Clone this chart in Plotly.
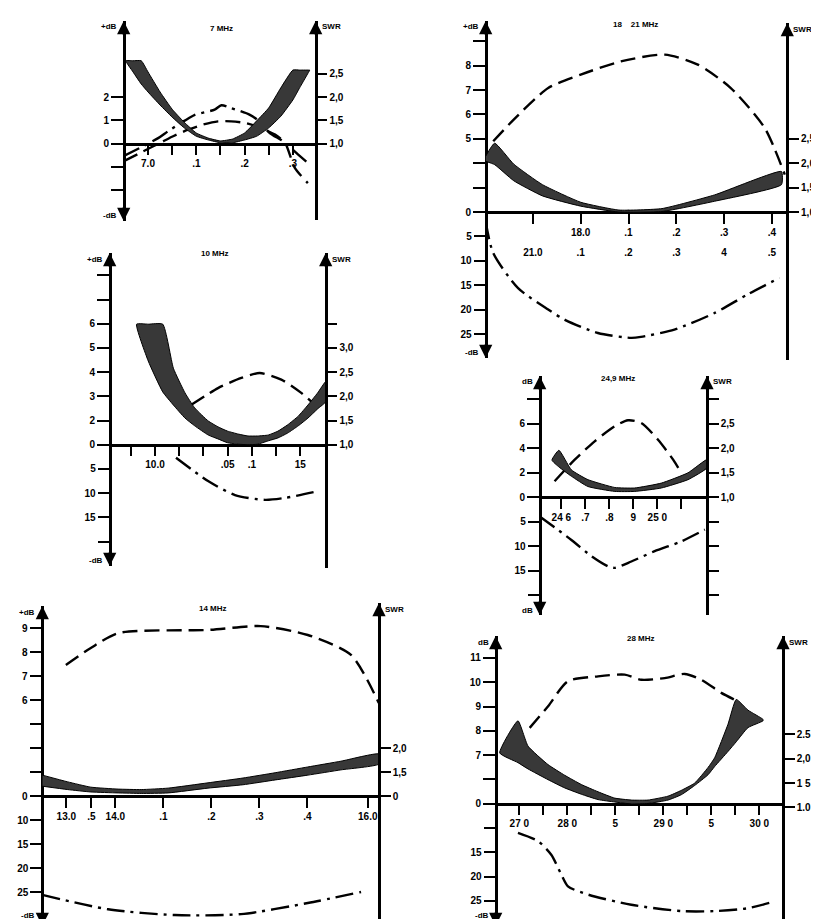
import plotly.graph_objects as go

W, H = 819, 919
FONT = "Liberation Sans"
DASH = "15px,7px"
DASHDOT = "18px,6px,3px,6px"

# ---------------- 7 MHz ----------------
f7_band = [6.954, 6.969, 6.986, 7.000, 7.025, 7.050, 7.075, 7.100, 7.125, 7.150,
           7.175, 7.200, 7.225, 7.250, 7.275, 7.300, 7.314, 7.335]
swr7_lo = [2.78, 2.54, 2.28, 2.11, 1.83, 1.57, 1.34, 1.16, 1.08, 1.02,
           1.02, 1.08, 1.16, 1.34, 1.59, 1.94, 2.20, 2.58]
swr7_hi = [2.78, 2.78, 2.78, 2.54, 2.11, 1.74, 1.46, 1.23, 1.12, 1.06,
           1.10, 1.23, 1.49, 1.77, 2.20, 2.58, 2.58, 2.58]
f7_a = [6.948, 7.021, 7.041, 7.076, 7.097, 7.138, 7.152, 7.172, 7.211, 7.228, 7.252, 7.280, 7.311, 7.331]
gain7_a = [-0.55, 0.24, 0.53, 0.99, 1.24, 1.46, 1.65, 1.53, 1.24, 1.00, 0.46, 0.10, -0.47, -0.83]
f7_b = [6.950, 6.990, 7.031, 7.052, 7.083, 7.114, 7.145, 7.172, 7.201, 7.228, 7.242, 7.263, 7.284, 7.304, 7.331]
gain7_b = [-0.75, -0.33, 0.10, 0.32, 0.60, 0.82, 0.96, 0.96, 0.89, 0.72, 0.60, 0.39, 0.03, -1.04, -1.69]

# ---------------- 10 MHz ----------------
f10_band = [9.981, 9.993, 10.008, 10.019, 10.031, 10.041, 10.055, 10.065, 10.075, 10.086,
            10.096, 10.106, 10.117, 10.127, 10.137, 10.148, 10.158, 10.168, 10.177]
swr10_lo = [3.49, 2.73, 2.09, 1.82, 1.55, 1.39, 1.20, 1.12, 1.04, 1.01,
            1.00, 1.01, 1.08, 1.14, 1.24, 1.39, 1.55, 1.74, 1.90]
swr10_hi = [3.49, 3.49, 3.49, 2.58, 2.07, 1.76, 1.49, 1.37, 1.28, 1.22,
            1.18, 1.18, 1.20, 1.28, 1.41, 1.59, 1.82, 2.07, 2.32]
f10_gain = [10.0375, 10.0513, 10.0651, 10.0892, 10.1082, 10.1305, 10.1511, 10.165]
gain10 = [2.65, 3.00, 3.34, 3.76, 3.96, 3.69, 3.14, 2.65]
f10_loss = [10.0217, 10.0548, 10.0826, 10.1136, 10.1343, 10.1684]
loss10 = [2.7, 7.5, 10.4, 11.4, 11.0, 9.6]

# ---------------- 14 MHz ----------------
f14_band = [13.848, 13.901, 13.949, 14.006, 14.054, 14.110, 14.193, 14.266, 14.333, 14.401, 14.470, 14.549]
swr14_lo = [1.21, 1.14, 1.09, 1.07, 1.06, 1.07, 1.17, 1.24, 1.34, 1.44, 1.55, 1.67]
swr14_hi = [1.44, 1.30, 1.19, 1.15, 1.14, 1.17, 1.28, 1.38, 1.49, 1.61, 1.73, 1.88]
f14_gain = [13.897, 13.949, 14.006, 14.193, 14.303, 14.401, 14.491, 14.549]
gain14 = [7.46, 8.17, 8.79, 8.92, 9.08, 8.71, 7.88, 5.88]
f14_loss = [13.848, 13.985, 14.124, 14.262, 14.401, 14.512]
loss14 = [25.5, 28.5, 29.7, 29.5, 27.2, 24.9]

# ---------------- 18 / 21 MHz ----------------
f18_band = [17.801, 17.820, 17.860, 17.920, 18.000, 18.080, 18.170, 18.280, 18.420]
swr18_lo = [2.04, 1.97, 1.64, 1.33, 1.12, 1.00, 1.01, 1.22, 1.56]
swr18_hi = [2.14, 2.41, 1.98, 1.56, 1.20, 1.04, 1.07, 1.35, 1.83]
f18_gain = [17.817, 17.863, 17.932, 18.000, 18.084, 18.176, 18.245, 18.314, 18.385, 18.427]
gain18 = [4.90, 5.85, 7.08, 7.63, 8.17, 8.45, 8.04, 7.08, 5.44, 3.53]
f18_loss = [17.801, 17.817, 17.869, 17.932, 17.967, 18.036, 18.106, 18.126, 18.196, 18.280, 18.349, 18.416]
loss18 = [1.9, 8.4, 15.6, 20.0, 22.1, 24.8, 25.8, 25.6, 24.1, 20.7, 16.9, 13.5]

# ---------------- 24,9 MHz ----------------
f24_band = [24.561, 24.590, 24.642, 24.711, 24.823, 24.906, 25.017, 25.128, 25.207]
swr24_lo = [1.76, 1.62, 1.43, 1.22, 1.12, 1.12, 1.19, 1.36, 1.60]
swr24_hi = [1.76, 1.96, 1.56, 1.36, 1.20, 1.19, 1.29, 1.50, 1.77]
f24_gain = [24.572, 24.656, 24.739, 24.823, 24.878, 24.933, 25.003, 25.066, 25.100]
gain24 = [1.31, 3.07, 4.57, 5.80, 6.29, 6.07, 4.70, 3.07, 1.98]
f24_loss = [24.510, 24.642, 24.725, 24.795, 24.823, 24.892, 24.989, 25.100, 25.198]
loss24 = [3.9, 8.7, 12.0, 14.1, 14.4, 13.1, 11.0, 9.0, 6.6]

# ---------------- 28 MHz ----------------
f28_band = [27.296, 27.486, 27.591, 27.799, 27.973, 28.146, 28.320, 28.494, 28.667, 28.841,
            29.049, 29.188, 29.327, 29.466, 29.535, 29.674, 29.760, 29.882, 30.039]
swr28_lo = [2.12, 1.92, 1.79, 1.57, 1.40, 1.27, 1.16, 1.11, 1.07, 1.08,
            1.15, 1.26, 1.45, 1.67, 1.84, 2.15, 2.35, 2.64, 2.78]
swr28_hi = [2.12, 2.78, 2.26, 1.88, 1.66, 1.47, 1.32, 1.19, 1.15, 1.15,
            1.23, 1.35, 1.50, 1.82, 2.02, 2.71, 3.22, 3.00, 2.81]
f28_gain = [27.608, 27.800, 28.007, 28.320, 28.598, 28.771, 29.015, 29.223, 29.396, 29.604, 29.778]
gain28 = [8.12, 9.01, 10.04, 10.24, 10.31, 10.10, 10.17, 10.34, 10.10, 9.56, 9.21]
f28_loss = [27.486, 27.695, 27.833, 27.938, 28.007, 28.216, 28.667, 29.188, 29.535, 29.882, 30.108]
loss28 = [11.0, 12.7, 15.5, 19.6, 22.0, 23.7, 25.8, 27.1, 27.1, 26.5, 25.4]

# ---------------- tick labels ----------------
x7_ticks = [7.0, 7.05, 7.1, 7.15, 7.2, 7.25, 7.3]
x7_text = ["7.0", "", ".1", "", ".2", "", ".3"]
x10_ticks = [9.975, 10.0, 10.025, 10.05, 10.075, 10.1, 10.125, 10.15]
x10_text = ["", "10.0", "", "", ".05", ".1", "", "15"]
x14_ticks = [13.898, 13.95, 14.0, 14.1, 14.2, 14.3, 14.4, 14.526]
x14_text = ["13.0", ".5", "14.0", ".1", ".2", ".3", ".4", "16.0"]
x18_ticks = [17.9, 18.0, 18.1, 18.2, 18.3, 18.4]
x18_text = ["", "18.0", ".1", ".2", ".3", ".4"]
x21_ticks = [21.0, 21.1, 21.2, 21.3, 21.4, 21.5]
x21_text = ["21.0", ".1", ".2", ".3", "4", ".5"]
x24_ticks = [24.6, 24.7, 24.8, 24.9, 25.0, 25.1]
x24_text = ["24 6", ".7", ".8", "9", "25 0", ""]
x28_ticks = [27.5, 27.75, 28.0, 28.25, 28.5, 28.75, 29.0, 29.25, 29.5, 29.75, 30.0]
x28_text = ["27 0", "", "28 0", "", "5", "", "29 0", "", "5", "", "30 0"]

g7_ticks, g7_text = [-2, -1, 0, 1, 2], ["", "", "0", "1", "2"]
g10_ticks, g10_text = [1, 2, 3, 4, 5, 6, 7, 8], ["0", "2", "3", "4", "5", "6", "", ""]
g14_ticks, g14_text = [2, 3, 4, 5, 6, 7, 8, 9], ["0", "", "", "", "6", "7", "8", "9"]
g18_ticks, g18_text = [2, 3, 4, 5, 6, 7, 8, 9], ["0", "", "", "5", "6", "7", "8", ""]
g24_ticks, g24_text = [0, 2, 4, 6, 8], ["0", "2", "4", "6", ""]
g28_ticks, g28_text = [5, 6, 7, 8, 9, 10, 11], ["0", "", "7", "8", "9", "10", "11"]

l10_ticks, l10_text = [5, 10, 15, 20], ["5", "10", "15", ""]
l14_ticks, l14_text = [10, 15, 20, 25], ["10", "15", "20", "25"]
l18_ticks, l18_text = [5, 10, 15, 20, 25], ["5", "10", "15", "20", "25"]
l24_ticks, l24_text = [5, 10, 15, 20], ["5", "10", "15", ""]
l28_ticks, l28_text = [10, 15, 20, 25], ["", "15", "20", "25"]

s7_ticks, s7_text = [1.0, 1.5, 2.0, 2.5], ["1,0", "1,5", "2,0", "2,5"]
s10_ticks, s10_text = [1.0, 1.5, 2.0, 2.5, 3.0, 3.5], ["1,0", "1,5", "2,0", "2,5", "3,0", ""]
s14_ticks, s14_text = [1.0, 1.5, 2.0], ["0", "1,5", "2,0"]
s18_ticks, s18_text = [1.0, 1.5, 2.0, 2.5], ["1,0", "1,5", "2,0", "2,5"]
s24_ticks = [-1.0, -0.5, 0.0, 0.5, 1.0, 1.5, 2.0, 2.5, 3.0]
s24_text = ["", "", "", "", "1,0", "1,5", "2,0", "2,5", ""]
s28_ticks, s28_text = [1.0, 1.5, 2.0, 2.5], ["1.0", "1 5", "2,0", "2.5"]

# panel geometry in page pixels (positions only)
PANELS = [
    dict(title="7 MHz", tx=213, ty=20, left=115.7, right=307.7, top=13, bottom=213, rtop=13, rbottom=212,
         y0=135.7, unit=23.3, fref=7.0, xref=140, ppm=483, k=0, s=1, a=0, b=5, c=0,
         top_lbl="+dB", bot_lbl="-dB", bot_y=207),
    dict(title="10 MHz", tx=207, ty=245, left=101.7, right=317.7, top=245, bottom=558, rtop=245, rbottom=560,
         y0=436.7, unit=24.2, fref=10.0, xref=147, ppm=968, k=1, s=1, a=0, b=5, c=0,
         top_lbl="+dB", bot_lbl="-dB", bot_y=552),
    dict(title="14 MHz", tx=205, ty=600, left=34.3, right=371, top=598, bottom=918, rtop=595, rbottom=919,
         y0=788.3, unit=24.04, fref=14.0, xref=107.3, ppm=480, k=2, s=1, a=5, b=5, c=0,
         top_lbl="+dB", bot_lbl="-dB", bot_y=907),
    dict(title="18    21 MHz", tx=627, ty=16, left=477.7, right=779.3, top=13, bottom=350, rtop=15, rbottom=352,
         y0=204, unit=24.4, fref=18.0, xref=572.7, ppm=478, k=2, s=1, a=0, b=5, c=0,
         top_lbl="+dB", bot_lbl="-dB", bot_y=344),
    dict(title="24,9 MHz", tx=610, ty=370, left=531.7, right=699, top=368, bottom=607, rtop=368, rbottom=607,
         y0=489.3, unit=24.5, fref=24.6, xref=553.3, ppm=240, k=0, s=2, a=0, b=5, c=0,
         top_lbl="dB", bot_lbl="dB", bot_y=602),
    dict(title="28 MHz", tx=633, ty=630, left=487.7, right=775, top=628, bottom=918, rtop=628, rbottom=919,
         y0=795.7, unit=24.3, fref=28.0, xref=559.3, ppm=96, k=5, s=1, a=5, b=5, c=0.15,
         top_lbl="dB", bot_lbl="-dB", bot_y=907),
]

PANEL_DATA = [
    dict(band=(f7_band, swr7_lo, swr7_hi), gains=[(f7_a, gain7_a, DASHDOT), (f7_b, gain7_b, DASH)], loss=None,
         xt=(x7_ticks, x7_text), gt=(g7_ticks, g7_text), lt=None, st=(s7_ticks, s7_text)),
    dict(band=(f10_band, swr10_lo, swr10_hi), gains=[(f10_gain, gain10, DASH)], loss=(f10_loss, loss10),
         xt=(x10_ticks, x10_text), gt=(g10_ticks, g10_text), lt=(l10_ticks, l10_text), st=(s10_ticks, s10_text)),
    dict(band=(f14_band, swr14_lo, swr14_hi), gains=[(f14_gain, gain14, DASH)], loss=(f14_loss, loss14),
         xt=(x14_ticks, x14_text), gt=(g14_ticks, g14_text), lt=(l14_ticks, l14_text), st=(s14_ticks, s14_text)),
    dict(band=(f18_band, swr18_lo, swr18_hi), gains=[(f18_gain, gain18, DASH)], loss=(f18_loss, loss18),
         xt=(x18_ticks, x18_text), gt=(g18_ticks, g18_text), lt=(l18_ticks, l18_text), st=(s18_ticks, s18_text)),
    dict(band=(f24_band, swr24_lo, swr24_hi), gains=[(f24_gain, gain24, DASH)], loss=(f24_loss, loss24),
         xt=(x24_ticks, x24_text), gt=(g24_ticks, g24_text), lt=(l24_ticks, l24_text), st=(s24_ticks, s24_text)),
    dict(band=(f28_band, swr28_lo, swr28_hi), gains=[(f28_gain, gain28, DASH)], loss=(f28_loss, loss28),
         xt=(x28_ticks, x28_text), gt=(g28_ticks, g28_text), lt=(l28_ticks, l28_text), st=(s28_ticks, s28_text)),
]


def px(x):
    return x / W


def py(y):
    return 1 - y / H


def ref(prefix, n):
    return prefix + ("" if n == 1 else str(n))


def key(prefix, n):
    return prefix + "axis" + ("" if n == 1 else str(n))


def axis_style(**kw):
    base = dict(showgrid=False, zeroline=False, showline=False, linecolor="black", linewidth=2.5,
                ticks="outside", tickwidth=2, tickcolor="black", ticklen=11, tickmode="array",
                tickfont=dict(family=FONT, size=10, color="black", weight="bold"),
                fixedrange=True)
    base.update(kw)
    return base


fig = go.Figure()
layout = {}
annotations = []


def arrow(x, y, down=False):
    annotations.append(dict(x=px(x), y=py(y), xref="paper", yref="paper", text="", showarrow=True,
                            ax=0, ay=-15 if down else 15, arrowhead=2, arrowsize=1.1,
                            arrowwidth=2.4, arrowcolor="black"))


def label(x, y, text, anchor="center", size=8):
    annotations.append(dict(x=px(x), y=py(y), xref="paper", yref="paper", text=text, showarrow=False,
                            xanchor=anchor, yanchor="middle", borderpad=0,
                            font=dict(family=FONT, size=size, color="black", weight="bold")))


for i, (g, d) in enumerate(zip(PANELS, PANEL_DATA)):
    xn, yg, yl, ys = i + 1, 3 * i + 1, 3 * i + 2, 3 * i + 3
    pos_top = (g["y0"] - g["top"]) / g["unit"]
    pos_bot = (g["y0"] - g["bottom"]) / g["unit"]
    rpos_top = (g["y0"] - g["rtop"]) / g["unit"]
    rpos_bot = (g["y0"] - g["rbottom"]) / g["unit"]
    x_lo = g["fref"] + (g["left"] - g["xref"]) / g["ppm"]
    x_hi = g["fref"] + (g["right"] - g["xref"]) / g["ppm"]

    layout[key("x", xn)] = axis_style(
        domain=[px(g["left"]), px(g["right"])], range=[x_lo, x_hi], anchor="free",
        position=py(g["y0"]), showline=True, ticklen=10,
        tickvals=d["xt"][0], ticktext=d["xt"][1])
    layout[key("y", yg)] = axis_style(
        domain=[py(g["bottom"]), py(g["top"])],
        range=[g["k"] + g["s"] * pos_bot, g["k"] + g["s"] * pos_top],
        anchor="free", position=px(g["left"]), side="left", showline=True, ticklen=12,
        tickvals=d["gt"][0], ticktext=d["gt"][1])
    if d["lt"] is not None:
        layout[key("y", yl)] = axis_style(
            overlaying=ref("y", yg),
            range=[g["a"] - g["b"] * pos_bot, g["a"] - g["b"] * pos_top],
            anchor="free", position=px(g["left"]), side="left", ticklen=12,
            tickvals=d["lt"][0], ticktext=d["lt"][1])
    layout[key("y", ys)] = axis_style(
        domain=[py(g["rbottom"]), py(g["rtop"])],
        range=[1 + 0.5 * (rpos_bot + g["c"]), 1 + 0.5 * (rpos_top + g["c"])],
        anchor="free", position=px(g["right"]), side="right", showline=True, ticklen=10,
        tickvals=d["st"][0], ticktext=d["st"][1])

    f, lo, hi = d["band"]
    fig.add_trace(go.Scatter(x=f + f[::-1], y=hi + lo[::-1], mode="lines", fill="toself",
                             fillcolor="#383838",
                             line=dict(color="black", width=1, shape="spline", smoothing=0.45),
                             xaxis=ref("x", xn), yaxis=ref("y", ys), hoverinfo="skip"))
    for fx, gy, dash in d["gains"]:
        fig.add_trace(go.Scatter(x=fx, y=gy, mode="lines",
                                 line=dict(color="black", width=2.4, dash=dash, shape="spline", smoothing=0.7),
                                 xaxis=ref("x", xn), yaxis=ref("y", yg), hoverinfo="skip"))
    if d["loss"] is not None:
        fx, ly = d["loss"]
        fig.add_trace(go.Scatter(x=fx, y=ly, mode="lines",
                                 line=dict(color="black", width=2.4, dash=DASHDOT, shape="spline", smoothing=0.7),
                                 xaxis=ref("x", xn), yaxis=ref("y", yl), hoverinfo="skip"))

    arrow(g["left"], g["top"])
    arrow(g["left"], g["bottom"], down=True)
    arrow(g["right"], g["rtop"])
    label(g["tx"], g["ty"], g["title"])
    label(g["left"] - 6, g["top"] + 6, g["top_lbl"], anchor="right")
    label(g["left"] - 6, g["bot_y"], g["bot_lbl"], anchor="right")
    label(g["right"] + 5, g["rtop"] + 6, "SWR", anchor="left")

# second frequency row of the 18 / 21 MHz panel
g18 = PANELS[3]
x18_lo = g18["fref"] + (g18["left"] - g18["xref"]) / g18["ppm"] + 3.1
x18_hi = g18["fref"] + (g18["right"] - g18["xref"]) / g18["ppm"] + 3.1
layout["xaxis7"] = axis_style(
    overlaying="x4", range=[x18_lo, x18_hi], anchor="free", position=py(g18["y0"] + 21),
    ticklen=10, tickcolor="rgba(0,0,0,0)", tickvals=x21_ticks, ticktext=x21_text)
fig.add_trace(go.Scatter(x=x21_ticks, y=[None] * len(x21_ticks), mode="lines",
                         xaxis="x7", yaxis="y10", hoverinfo="skip"))

fig.update_layout(
    width=W, height=H, margin=dict(l=0, r=0, t=0, b=0),
    paper_bgcolor="white", plot_bgcolor="rgba(0,0,0,0)",
    showlegend=False, annotations=annotations, **layout)

fig.write_html("out.html")
